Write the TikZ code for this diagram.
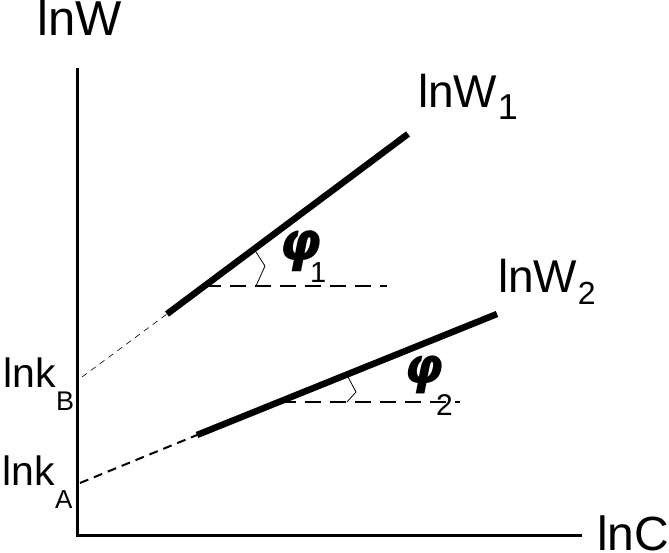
\documentclass[tikz,border=0pt]{standalone}
\usepackage{fontspec}
\setmainfont{Liberation Sans}
\newfontfamily\greekfont{DejaVu Sans}
\usetikzlibrary{positioning}

\begin{document}
\begin{tikzpicture}[x=1pt, y=-1pt, axis/.style={line width=3pt}, main line/.style={line width=6.5pt}, level line/.style={line width=2.5pt, dash pattern=on 16pt off 9pt}, angle mark/.style={line width=0.8pt}, lbl/.style={anchor=base west, inner sep=0pt}, idx/.style={anchor=base west, inner sep=0pt}]
\useasboundingbox (0,0) rectangle (669,553);
% axes
\coordinate (O) at (77,535);
\coordinate (ytop) at (77,68);
\coordinate (xend) at (582,535);
\draw[axis] (ytop) -- (O) -- (xend);
% first line and its extension to the axis
\coordinate (kB) at (82,377);
\coordinate (a1) at (167,314);
\coordinate (b1) at (408,134);
\draw[main line] (a1) -- (b1);
\draw[line width=0.6pt, dash pattern=on 6pt off 5pt] (kB) -- (a1);
\coordinate (h1) at (205,286);
\coordinate (h1e) at (387,286);
\draw[level line] (h1) -- (h1e);
\coordinate (m1a) at (256,252);
\coordinate (m1b) at (265,266);
\coordinate (m1c) at (256,286);
\draw[angle mark] (m1a) -- (m1b) -- (m1c);
% second line
\coordinate (kA) at (80,483);
\coordinate (a2) at (197,435);
\coordinate (b2) at (497,314);
\draw[main line] (a2) -- (b2);
\draw[line width=2pt, dash pattern=on 9pt off 6pt] (kA) -- (a2);
\coordinate (h2) at (280,402);
\coordinate (h2e) at (460,402);
\draw[level line] (h2) -- (h2e);
\coordinate (m2a) at (348,377);
\coordinate (m2b) at (356,392);
\coordinate (m2c) at (347,402);
\draw[angle mark] (m2a) -- (m2b) -- (m2c);
% labels
\node[lbl, font=\fontsize{49}{49}\selectfont] (lnW) at (37,36) {lnW};
\node[lbl, font=\fontsize{48}{48}\selectfont] (lnC) at (597,550) {lnC};
\node[lbl, font=\fontsize{46}{46}\selectfont] (W1) at (418,108) {lnW};
\node[idx, font=\fontsize{36}{36}\selectfont] (W1i) at ([yshift=-12pt]W1.base east) {1};
\node[lbl, font=\fontsize{46}{46}\selectfont] (W2) at (498,293) {lnW};
\node[idx, font=\fontsize{32}{32}\selectfont] (W2i) at ([yshift=-12pt]W2.base east) {2};
\node[lbl, font=\fontsize{41}{41}\selectfont] (kBl) at (3,387) {lnk};
\node[idx, font=\fontsize{27}{27}\selectfont] (kBi) at ([yshift=-23pt]kBl.base east) {B};
\node[lbl, font=\fontsize{41}{41}\selectfont] (kAl) at (2,485) {lnk};
\node[idx, font=\fontsize{26}{26}\selectfont] (kAi) at ([yshift=-23pt]kAl.base east) {A};
\node[lbl, font=\fontsize{54}{54}\greekfont\bfseries\itshape] (phi1) at (279,261) {φ};
\node[idx, font=\fontsize{29}{29}\selectfont] (phi1i) at (310,283) {1};
\node[lbl, font=\fontsize{50}{50}\greekfont\bfseries\itshape] (phi2) at (404,383) {φ};
\node[idx, font=\fontsize{30}{30}\selectfont] (phi2i) at (436,415) {2};
\end{tikzpicture}
\end{document}
